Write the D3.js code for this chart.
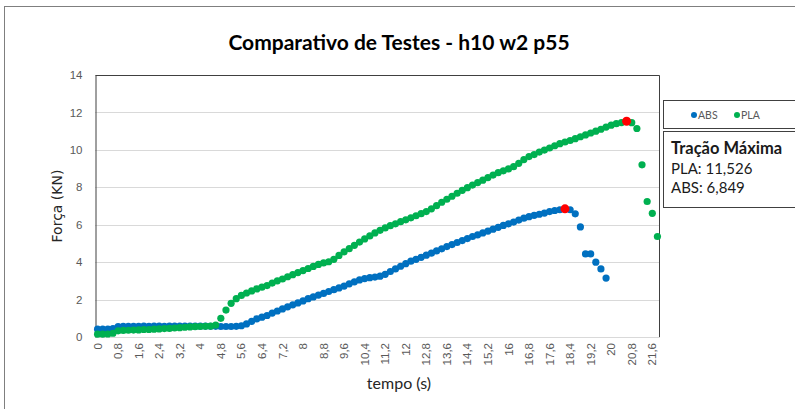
<!DOCTYPE html>
<html>
<head>
<meta charset="utf-8">
<script src="https://cdn.jsdelivr.net/npm/d3@7"></script>
<style>
  body { margin: 0; background: #fff; }
  svg { display: block; font-family: Lato, "Open Sans", sans-serif; }
  .grid line { stroke: #d9d9d9; }
  .tick-label { fill: #595959; font-size: 11.5px; }
</style>
</head>
<body>
<svg width="795" height="409"></svg>
<script>
// **** Chart data ****

var times = [0, 0.2, 0.4, 0.6, 0.8, 1, 1.2, 1.4, 1.6, 1.8,
    2, 2.2, 2.4, 2.6, 2.8, 3, 3.2, 3.4, 3.6, 3.8,
    4, 4.2, 4.4, 4.6, 4.8, 5, 5.2, 5.4, 5.6, 5.8,
    6, 6.2, 6.4, 6.6, 6.8, 7, 7.2, 7.4, 7.6, 7.8,
    8, 8.2, 8.4, 8.6, 8.8, 9, 9.2, 9.4, 9.6, 9.8,
    10, 10.2, 10.4, 10.6, 10.8, 11, 11.2, 11.4, 11.6, 11.8,
    12, 12.2, 12.4, 12.6, 12.8, 13, 13.2, 13.4, 13.6, 13.8,
    14, 14.2, 14.4, 14.6, 14.8, 15, 15.2, 15.4, 15.6, 15.8,
    16, 16.2, 16.4, 16.6, 16.8, 17, 17.2, 17.4, 17.6, 17.8,
    18, 18.2, 18.4, 18.6, 18.8, 19, 19.2, 19.4, 19.6, 19.8,
    20, 20.2, 20.4, 20.6, 20.8, 21, 21.2, 21.4, 21.6, 21.8];

var absValues = [0.42, 0.42, 0.42, 0.45, 0.56, 0.57, 0.57, 0.57, 0.57, 0.58,
    0.57, 0.58, 0.58, 0.57, 0.58, 0.58, 0.58, 0.58, 0.58, 0.58,
    0.58, 0.58, 0.57, 0.57, 0.56, 0.56, 0.56, 0.57, 0.60, 0.70,
    0.84, 0.97, 1.06, 1.15, 1.28, 1.39, 1.50, 1.61, 1.72, 1.82,
    1.93, 2.05, 2.14, 2.24, 2.33, 2.43, 2.53, 2.62, 2.72, 2.84,
    2.95, 3.05, 3.12, 3.17, 3.20, 3.25, 3.35, 3.50, 3.64, 3.78,
    3.92, 4.05, 4.15, 4.26, 4.37, 4.48, 4.60, 4.71, 4.83, 4.94,
    5.05, 5.15, 5.26, 5.37, 5.46, 5.56, 5.66, 5.76, 5.86, 5.96,
    6.05, 6.14, 6.25, 6.35, 6.43, 6.50, 6.56, 6.62, 6.70, 6.76,
    6.80, 6.849, 6.80, 6.58, 5.88, 4.44, 4.44, 4.00, 3.64, 3.15];

var plaValues = [0.15, 0.15, 0.16, 0.20, 0.33, 0.35, 0.36, 0.37, 0.38, 0.40,
    0.40, 0.42, 0.43, 0.45, 0.46, 0.48, 0.50, 0.52, 0.54, 0.55,
    0.56, 0.57, 0.58, 0.64, 1.00, 1.44, 1.80, 2.05, 2.22, 2.35,
    2.46, 2.57, 2.66, 2.75, 2.88, 3.00, 3.10, 3.22, 3.33, 3.44,
    3.55, 3.66, 3.77, 3.88, 3.96, 4.02, 4.15, 4.36, 4.55, 4.72,
    4.90, 5.07, 5.24, 5.40, 5.56, 5.70, 5.83, 5.95, 6.05, 6.16,
    6.26, 6.37, 6.48, 6.59, 6.70, 6.85, 7.02, 7.20, 7.36, 7.52,
    7.68, 7.84, 7.98, 8.12, 8.25, 8.38, 8.52, 8.65, 8.78, 8.88,
    8.98, 9.10, 9.28, 9.48, 9.64, 9.75, 9.88, 9.99, 10.10, 10.22,
    10.33, 10.42, 10.50, 10.60, 10.70, 10.80, 10.90, 11.00, 11.10, 11.22,
    11.32, 11.40, 11.46, 11.526, 11.45, 11.14, 9.20, 7.24, 6.61, 5.37];

// max traction points (red markers)
var maxTimes = [18.2, 20.6];
var maxValues = [6.849, 11.526];

var yTicks = [0, 2, 4, 6, 8, 10, 12, 14];
var xTickTimes = [0, 0.8, 1.6, 2.4, 3.2, 4, 4.8, 5.6, 6.4, 7.2, 8, 8.8, 9.6, 10.4,
    11.2, 12, 12.8, 13.6, 14.4, 15.2, 16, 16.8, 17.6, 18.4, 19.2, 20, 20.8, 21.6];

var seriesNames = ['ABS', 'PLA'];
var seriesColors = ['#0070c0', '#00b050'];

// **** Scales ****

var xScale = d3.scaleBand().domain(times).range([95, 660]);
var yScale = d3.scaleLinear().domain([0, 14]).range([337, 75]);

function cx(t) { return xScale(t) + xScale.bandwidth() / 2; }
function comma(v) { return String(v).replace('.', ','); }

var svg = d3.select('svg');

// outer chart border
svg.append('rect')
    .attr('x', 4.5).attr('y', 6.5)
    .attr('width', 800).attr('height', 420)
    .attr('fill', 'none').attr('stroke', '#7f7f7f');

// title
svg.append('text')
    .attr('x', 399).attr('y', 50)
    .attr('text-anchor', 'middle')
    .style('font-size', '21px').style('font-weight', 'bold')
    .text('Comparativo de Testes - h10 w2 p55');

// gridlines
svg.append('g').attr('class', 'grid')
    .selectAll('line')
    .data(yTicks)
    .enter().append('line')
    .attr('x1', 95).attr('x2', 660)
    .attr('y1', function(d) { return Math.round(yScale(d)) + 0.5; })
    .attr('y2', function(d) { return Math.round(yScale(d)) + 0.5; });

// y axis
var yAxis = svg.append('g')
    .attr('transform', 'translate(95.5,0)')
    .call(d3.axisLeft(yScale).tickValues(yTicks).tickSize(0).tickPadding(13));
yAxis.select('.domain').attr('stroke', '#404040');
yAxis.selectAll('text').attr('class', 'tick-label').attr('fill', null).attr('font-family', null).attr('font-size', null);

// top and right frame
svg.append('path')
    .attr('d', 'M95.5,75.5H659.5V337')
    .attr('fill', 'none').attr('stroke', '#404040');

// x axis
var xAxis = svg.append('g')
    .attr('transform', 'translate(0,337)')
    .call(d3.axisBottom(xScale).tickValues(xTickTimes).tickSize(0).tickFormat(comma));
xAxis.select('.domain').remove();
xAxis.selectAll('text')
    .attr('class', 'tick-label').attr('fill', null).attr('font-family', null).attr('font-size', null)
    .attr('transform', 'rotate(-90)')
    .attr('text-anchor', 'end')
    .attr('x', -6).attr('y', 0).attr('dy', '0.35em');

// axis titles
svg.append('text')
    .attr('x', 399).attr('y', 389)
    .attr('text-anchor', 'middle')
    .style('font-size', '16px').attr('fill', '#262626')
    .text('tempo (s)');

svg.append('text')
    .attr('transform', 'translate(62,206) rotate(-90)')
    .attr('text-anchor', 'middle')
    .style('font-family', '"DejaVu Sans"').style('font-size', '14px').attr('fill', '#262626')
    .text('Força (KN)');

// points
var series = [absValues, plaValues];
series.forEach(function(values, i) {
    svg.append('g')
        .selectAll('circle')
        .data(values)
        .enter().append('circle')
        .attr('cx', function(d, j) { return cx(times[j]); })
        .attr('cy', function(d) { return yScale(d); })
        .attr('r', 3.6)
        .attr('fill', seriesColors[i]);
});

svg.append('g')
    .selectAll('circle')
    .data(maxValues)
    .enter().append('circle')
    .attr('cx', function(d, i) { return cx(maxTimes[i]); })
    .attr('cy', function(d) { return yScale(d); })
    .attr('r', 4.5)
    .attr('fill', '#ff0000');

// legend
svg.append('rect')
    .attr('x', 663.5).attr('y', 100.5).attr('width', 140).attr('height', 28)
    .attr('fill', '#fff').attr('stroke', '#404040');

var legend = svg.append('g').selectAll('g')
    .data(seriesNames)
    .enter().append('g')
    .attr('transform', function(d, i) { return 'translate(' + (694 + i * 43) + ',115)'; });
legend.append('circle').attr('r', 3).attr('fill', function(d, i) { return seriesColors[i]; });
legend.append('text')
    .attr('x', 4).attr('dy', '0.35em')
    .style('font-size', '10.5px').attr('fill', '#595959')
    .text(function(d) { return d; });

// max traction text box
svg.append('rect')
    .attr('x', 663.5).attr('y', 131.5).attr('width', 140).attr('height', 76)
    .attr('fill', '#fff').attr('stroke', '#404040');

var boxText = svg.append('g').attr('fill', '#1a1a1a');
boxText.append('text').attr('x', 671).attr('y', 154)
    .style('font-size', '16.5px').style('font-weight', 'bold')
    .text('Tração Máxima');
boxText.append('text').attr('x', 671).attr('y', 174)
    .style('font-size', '15px')
    .text('PLA: ' + comma(maxValues[1]));
boxText.append('text').attr('x', 671).attr('y', 193)
    .style('font-size', '15px')
    .text('ABS: ' + comma(maxValues[0]));
</script>
</body>
</html>
